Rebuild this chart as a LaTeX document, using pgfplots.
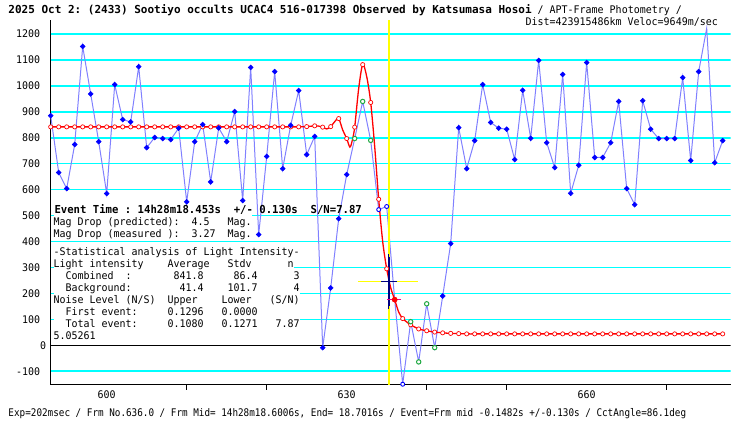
\documentclass[border=0pt]{standalone}
\usepackage{fontspec}
\usepackage{pgfplots}
\pgfplotsset{compat=1.18}
\usepackage{pgfplotstable}
\newfontfamily\gothicfam[FakeStretch=0.95]{DejaVu Sans Mono}
\newfontfamily\titlefam[FakeStretch=1.0]{DejaVu Sans Mono}
\newfontfamily\eventfam[FakeStretch=0.967]{DejaVu Sans Mono}
\newfontfamily\bottomfam[FakeStretch=0.886]{DejaVu Sans Mono}
\newcommand\monosp{\spaceskip=\fontcharwd\font`0\relax}
\newcommand\gothic{\gothicfam\mdseries\upshape\fontsize{10.5}{12}\selectfont\monosp}
\newcommand\titlef{\titlefam\bfseries\fontsize{11}{13}\selectfont\monosp}
\newcommand\eventf{\eventfam\bfseries\fontsize{11}{13}\selectfont\monosp}
\newcommand\bottomf{\bottomfam\mdseries\fontsize{10.5}{12}\selectfont\monosp}
\definecolor{gridcyan}{RGB}{0,255,255}
\definecolor{bline}{RGB}{128,128,255}
\definecolor{bmark}{RGB}{0,0,255}
\definecolor{gmark}{RGB}{34,170,68}
\definecolor{navyb}{RGB}{0,0,128}
\definecolor{yel}{RGB}{255,255,0}

% frame, intensity, class (0 blue filled, 1 blue open, 2 green open, 3 red filled, 9 no mark)
\pgfplotstableread{
f v c
593 885 0
594 666 0
595 604 0
596 774 0
597 1152 0
598 969 0
599 785 0
600 585 0
601 1005 0
602 870 0
603 861 0
604 1074 0
605 762 0
606 801 0
607 797 0
608 793 0
609 837 0
610 553 0
611 785 0
612 851 0
613 630 0
614 838 0
615 785 0
616 901 0
617 558 0
618 1071 0
619 427 0
620 728 0
621 1055 0
622 681 0
623 848 0
624 982 0
625 735 0
626 805 0
627 -9 0
628 221 0
629 488 0
630 658 0
631 797 2
632 940 2
633 790 2
634 523 1
635 535 1
636 176 3
637 -150 1
638 91 2
639 -64 2
640 160 2
641 -9 2
642 190 0
643 392 0
644 839 0
645 681 0
646 789 0
647 1005 0
648 859 0
649 837 0
650 833 0
651 716 0
652 983 0
653 798 0
654 1098 0
655 781 0
656 685 0
657 1044 0
658 586 0
659 694 0
660 1090 0
661 724 0
662 724 0
663 781 0
664 940 0
665 604 0
666 542 0
667 943 0
668 833 0
669 797 0
670 797 0
671 797 0
672 1032 0
673 712 0
674 1055 0
675 1222 9
676 704 0
677 789 0
}\obs

% model light curve: frame, intensity, m (1 = marked frame)
\pgfplotstableread{
f v m
593 842 1
594 842 1
595 842 1
596 842 1
597 842 1
598 842 1
599 842 1
600 842 1
601 842 1
602 842 1
603 842 1
604 842 1
605 842 1
606 842 1
607 842 1
608 842 1
609 842 1
610 842 1
611 842 1
612 842 1
613 842 1
614 842 1
615 842 1
616 842 1
617 842 1
618 842 1
619 842 1
620 842 1
621 842 1
622 842 1
623 842 1
624 842 1
625 843 1
626 846 1
626.5 845 0
627 841 1
627.5 834 0
628 843 1
628.5 862 0
629 874 1
629.5 830 0
630 797 1
630.4 764 0
630.7 790 0
631 841 1
631.5 990 0
632 1082 1
632.5 1036 0
633 936 1
633.5 766 0
634 563 1
634.5 400 0
635 295 1
635.5 222 0
636 176 1
636.5 128 0
637 103 1
637.5 90 0
638 79 1
639 63 1
640 56 1
641 51 1
642 48 1
643 46 1
644 45 1
645 44 1
646 44 1
647 44 1
648 44 1
649 44 1
650 44 1
651 44 1
652 44 1
653 44 1
654 44 1
655 44 1
656 44 1
657 44 1
658 44 1
659 44 1
660 44 1
661 44 1
662 44 1
663 44 1
664 44 1
665 44 1
666 44 1
667 44 1
668 44 1
669 44 1
670 44 1
671 44 1
672 44 1
673 44 1
674 44 1
675 44 1
676 44 1
677 44 1
}\fit

\newcommand\sline[3][9pt]{\node[anchor=base west, inner sep=0pt, fill=white, text height=#1, text depth=2.8pt] at (53.3,#2) {\gothic #3};}

\begin{document}\frenchspacing
\begin{tikzpicture}[x=1pt,y=1pt]
\useasboundingbox (0,0) rectangle (740,425);
\begin{axis}[
  at={(50.7pt,40pt)}, anchor=south west, scale only axis,
  width=680pt, height=365pt,
  xmin=593, xmax=678, ymin=-153, ymax=1254,
  axis x line=bottom, axis y line=left,
  axis line style={-, black, line width=1pt},
  xtick={610,620,640,650,670}, xticklabels={},
  extra x ticks={600,630,660}, extra x tick labels={600,630,660},
  extra x tick style={major tick length=0pt},
  tick align=outside, major tick length=5pt,
  x tick style={black, line width=0.8pt},
  ytick={-100,100,200,300,400,500,600,700,800,900,1000,1100,1200},
  yticklabels={-100,100,200,300,400,500,600,700,800,900,1000,1100,1200},
  y tick style={draw=none},
  extra y ticks={0}, extra y tick labels={0},
  extra y tick style={yticklabel style={xshift=6pt}},
  ticklabel style={font=\gothic},
  yticklabel style={anchor=east, xshift=-2pt},
  xticklabel style={yshift=-2.5pt},
]
% horizontal reference lines at every 100
\pgfplotsinvokeforeach{-100,100,200,300,400,500,600,700,800,900,1000,1100,1200}{
  \addplot[gridcyan, line width=1.5pt, forget plot] coordinates {(593,#1) (678,#1)};
}
\addplot[black, line width=1.1pt] coordinates {(593,0) (678,0)};
\addplot[bline, line width=1pt, mark=none] table[x=f,y=v]{\obs};
\addplot[red, line width=1.3pt, smooth, mark=none] table[x=f,y=v]{\fit};
\addplot[red, only marks, mark=*, mark size=2.1pt, mark options={fill=white, line width=0.7pt},
  restrict expr to domain={\thisrow{m}}{1:1}] table[x=f,y=v]{\fit};
\addplot[yel, line width=1.3pt] coordinates {(635.27,-153) (635.27,1254)};
\addplot[yel, line width=1.3pt] coordinates {(631.4,247) (638.9,247)};
\addplot[navyb, mark=none, forget plot,
  error bars/.cd, x dir=both, x explicit, y dir=both, y explicit,
  error bar style={navyb, line width=1.3pt},
  error mark options={navyb, line width=1.2pt, mark size=2.8pt}]
  coordinates {(635.27,246.5) +- (0.64,95.5)};
\addplot[magenta, line width=1pt] coordinates {(635.1,175) (636.8,175)};
\addplot[only marks, mark=square*, mark size=1.75pt, mark options={rotate=45, fill=bmark, draw=bmark, line width=0.5pt},
  restrict expr to domain={\thisrow{c}}{0:0}] table[x=f,y=v]{\obs};
\addplot[only marks, mark=*, mark size=2pt, mark options={fill=white, draw=bmark, line width=0.9pt},
  restrict expr to domain={\thisrow{c}}{1:1}] table[x=f,y=v]{\obs};
\addplot[only marks, mark=*, mark size=2.2pt, mark options={fill=white, draw=gmark, line width=1pt},
  restrict expr to domain={\thisrow{c}}{2:2}] table[x=f,y=v]{\obs};
\addplot[only marks, mark=*, mark size=2.6pt, mark options={fill=red, draw=red},
  restrict expr to domain={\thisrow{c}}{3:3}] table[x=f,y=v]{\obs};
\end{axis}

% title lines
\node[anchor=base west, inner sep=0pt] at (8.3,411) {\titlef 2025~Oct~2:~(2433)~Sootiyo~occults~UCAC4~516-017398~Observed~by~Katsumasa~Hosoi\gothic~/~APT-Frame~Photometry~/};
\node[anchor=base east, inner sep=0pt] at (718,399) {\gothic Dist=423915486km~Veloc=9649m/sec};

% event block
\node[anchor=base west, inner sep=0pt] at (54.3,211.7) {\eventf Event~Time~:~14h28m18.453s~~+/-~0.130s~~S/N=7.87};
\sline[10.5pt]{199}{Mag~Drop~(predicted):~~4.5~~~Mag.}
\sline{187}{Mag~Drop~(measured~):~~3.27~~Mag.}
\sline{169}{-Statistical~analysis~of~Light~Intensity-}
\sline{157}{Light~intensity~~~~Average~~~Stdv~~~~~~n}
\sline{145}{~~Combined~~:~~~~~~~841.8~~~~~86.4~~~~~~3}
\sline{133}{~~Background:~~~~~~~~41.4~~~~101.7~~~~~~4}
\sline{121}{Noise~Level~(N/S)~~Upper~~~~Lower~~~(S/N)}
\sline{109}{~~First~event:~~~~~0.1296~~~0.0000}
\sline{97}{~~Total~event:~~~~~0.1080~~~0.1271~~~7.87}
\sline{85}{5.05261}

% bottom line
\node[anchor=base west, inner sep=0pt] at (8.3,8) {\bottomf Exp=202msec~/~Frm~No.636.0~/~Frm~Mid=~14h28m18.6006s,~End=~18.7016s~/~Event=Frm~mid~-0.1482s~+/-0.130s~/~CctAngle=86.1deg};
\end{tikzpicture}
\end{document}
